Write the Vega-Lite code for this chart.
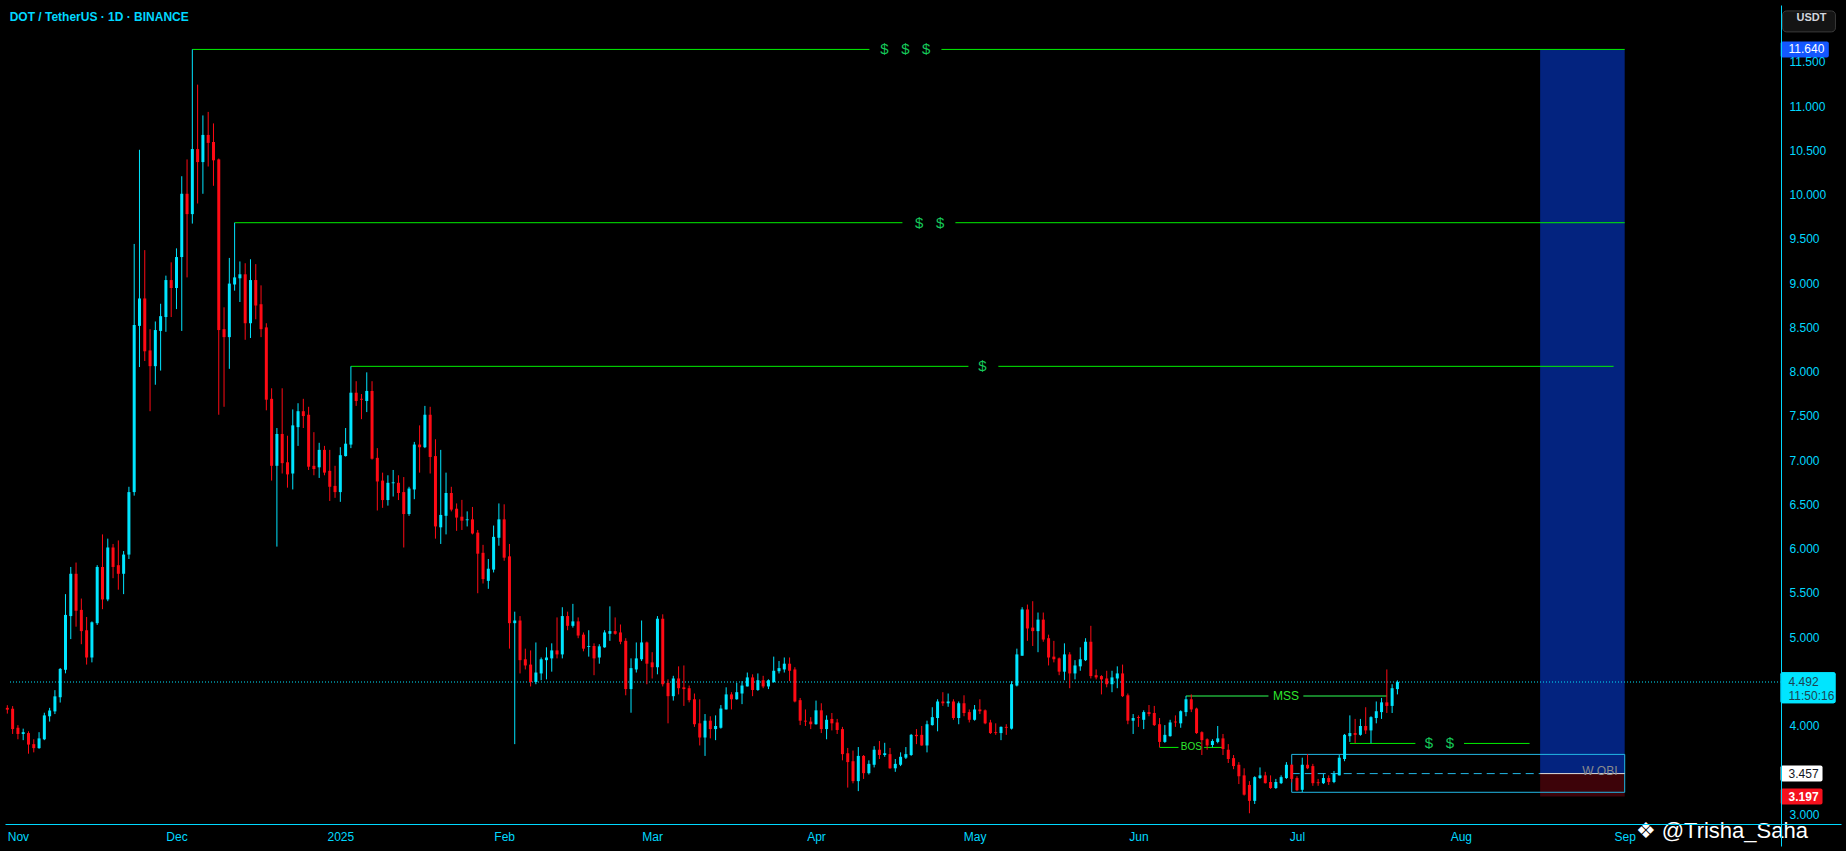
{
"$schema": "https://vega.github.io/schema/vega-lite/v6.json",
"width": 1846,
"height": 851,
"autosize": {"type": "fit", "contains": "padding"},
"padding": 5,
"background": "#000000",
"config": {
"view": {"stroke": null},
"font": "Liberation Sans",
"text": {"font": "Liberation Sans"},
"axis": {"grid": false, "ticks": false, "domain": true, "labels": true, "domainColor": "#00d8ff", "labelColor": "#00d8ff", "labelFont": "Liberation Sans", "labelFontSize": 12, "title": null}
},
"layer": [
{
"data": {"values": [
{"zone": "target", "from": "2025-08-16", "to": "2025-09-01", "top": 11.64, "bottom": 3.457},
{"zone": "stop", "from": "2025-08-16", "to": "2025-09-01", "top": 3.457, "bottom": 3.197}
]},
"mark": {"type": "rect"},
"encoding": {
"x": {"field": "from", "type": "temporal", "title": null,
"scale": {"type": "utc", "domain": [{"year": 2024, "month": "oct", "date": 30, "hours": 12, "minutes": 4, "utc": true}, {"year": 2025, "month": "oct", "date": 10, "hours": 23, "minutes": 31, "utc": true}], "nice": false},
"axis": {"disable": false, "title": null, "grid": false, "ticks": false, "domain": true, "labels": true, "domainColor": "#00d8ff", "domainWidth": 1, "labelColor": "#00d8ff", "labelFont": "Liberation Sans", "labelFontSize": 12, "labelPadding": 7, "labelFlush": false, "labelOverlap": false, "offset": -22, "zindex": 1,
"values": [
{"year": 2024, "month": "nov", "date": 1, "utc": true},
{"year": 2024, "month": "dec", "date": 1, "utc": true},
{"year": 2025, "month": "jan", "date": 1, "utc": true},
{"year": 2025, "month": "feb", "date": 1, "utc": true},
{"year": 2025, "month": "mar", "date": 1, "utc": true},
{"year": 2025, "month": "apr", "date": 1, "utc": true},
{"year": 2025, "month": "may", "date": 1, "utc": true},
{"year": 2025, "month": "jun", "date": 1, "utc": true},
{"year": 2025, "month": "jul", "date": 1, "utc": true},
{"year": 2025, "month": "aug", "date": 1, "utc": true},
{"year": 2025, "month": "sep", "date": 1, "utc": true}
],
"labelExpr": "utcmonth(datum.value) == 0 ? utcFormat(datum.value, '%Y') : utcFormat(datum.value, '%b')"}},
"x2": {"field": "to"},
"y": {"field": "top", "type": "quantitative", "title": null,
"scale": {"domain": [2.6955, 12.0855], "nice": false, "zero": false},
"axis": {"disable": false, "orient": "right", "title": null, "grid": false, "ticks": false, "domain": true, "labels": true, "domainColor": "#00d8ff", "domainWidth": 1, "labelColor": "#00d8ff", "labelFont": "Liberation Sans", "labelFontSize": 12, "labelPadding": 8, "labelAlign": "left", "labelBaseline": "middle", "labelFlush": false, "labelOverlap": false, "format": ".3f", "offset": -60, "zindex": 1,
"values": [3, 4, 5, 5.5, 6, 6.5, 7, 7.5, 8, 8.5, 9, 9.5, 10, 10.5, 11, 11.5]}},
"y2": {"field": "bottom"},
"color": {"field": "zone", "type": "nominal", "scale": {"domain": ["target", "stop"], "range": ["#03237f", "#3d0309"]}, "legend": null}
}
},
{
"data": {"values": [{"zone": "W OBI", "from": "2025-06-30", "to": "2025-09-01", "top": 3.674, "bottom": 3.246}]},
"mark": {"type": "rect", "fill": null, "fillOpacity": 0, "stroke": "#22b8e6", "strokeWidth": 1},
"encoding": {
"x": {"field": "from", "type": "temporal"},
"x2": {"field": "to"},
"y": {"field": "top", "type": "quantitative"},
"y2": {"field": "bottom"}
}
},
{
"data": {"values": [{"price": 3.457, "from": "2025-06-30", "to": "2025-08-16"}]},
"mark": {"type": "rule", "color": "#22b8e6", "strokeWidth": 1, "strokeDash": [8, 5]},
"encoding": {
"x": {"field": "from", "type": "temporal"},
"x2": {"field": "to"},
"y": {"field": "price", "type": "quantitative"}
}
},
{
"data": {"values": [{"price": 3.457, "from": "2025-08-16", "to": "2025-09-01"}]},
"mark": {"type": "rule", "color": "#e0e0e0", "strokeWidth": 1},
"encoding": {
"x": {"field": "from", "type": "temporal"},
"x2": {"field": "to"},
"y": {"field": "price", "type": "quantitative"}
}
},
{
"data": {"values": [
{"level": "$$$", "price": 11.64, "from": "2024-12-04", "to": "2025-04-11T02:24:00Z"},
{"level": "$$$", "price": 11.64, "from": "2025-04-24T17:30:00Z", "to": "2025-09-01"},
{"level": "$$", "price": 9.682, "from": "2024-12-12", "to": "2025-04-17T08:24:00Z"},
{"level": "$$", "price": 9.682, "from": "2025-04-27T09:00:00Z", "to": "2025-09-01"},
{"level": "$", "price": 8.059, "from": "2025-01-03", "to": "2025-04-29T20:00:00Z"},
{"level": "$", "price": 8.059, "from": "2025-05-05T12:00:00Z", "to": "2025-08-29T21:36:00Z"},
{"level": "BOS", "price": 3.753, "from": "2025-06-05", "to": "2025-06-08T14:00:00Z"},
{"level": "BOS", "price": 3.753, "from": "2025-06-13T10:20:00Z", "to": "2025-06-17"},
{"level": "$$ low", "price": 3.798, "from": "2025-07-11", "to": "2025-07-23T09:36:00Z"},
{"level": "$$ low", "price": 3.798, "from": "2025-08-01T14:24:00Z", "to": "2025-08-14"}
]},
"mark": {"type": "rule", "color": "#00f000", "strokeWidth": 1},
"encoding": {
"x": {"field": "from", "type": "temporal"},
"x2": {"field": "to"},
"y": {"field": "price", "type": "quantitative"}
}
},
{
"data": {"values": [
{"level": "MSS", "price": 4.335, "from": "2025-06-10", "to": "2025-06-25T14:24:00Z"},
{"level": "MSS", "price": 4.335, "from": "2025-07-02T04:48:00Z", "to": "2025-07-18"}
]},
"mark": {"type": "rule", "color": "#17802a", "strokeWidth": 2},
"encoding": {
"x": {"field": "from", "type": "temporal"},
"x2": {"field": "to"},
"y": {"field": "price", "type": "quantitative"}
}
},
{
"data": {"values": [{"price": 4.492}]},
"mark": {"type": "rule", "color": "#00e5ff", "strokeWidth": 1, "strokeDash": [1, 2]},
"encoding": {
"x": {"datum": {"year": 2024, "month": "oct", "date": 30, "hours": 12, "minutes": 4, "utc": true}, "type": "temporal"},
"x2": {"datum": {"year": 2025, "month": "sep", "date": 30, "hours": 11, "minutes": 45, "utc": true}},
"y": {"field": "price", "type": "quantitative"}
}
},
{
"data": {"values": [
{"date":"2024-10-29","open":4.13,"high":4.26,"low":4.12,"close":4.195},
{"date":"2024-10-30","open":4.20,"high":4.23,"low":4.135,"close":4.18},
{"date":"2024-10-31","open":4.19,"high":4.22,"low":3.905,"close":3.96},
{"date":"2024-11-01","open":3.975,"high":4.005,"low":3.845,"close":3.905},
{"date":"2024-11-02","open":3.905,"high":3.965,"low":3.835,"close":3.925},
{"date":"2024-11-03","open":3.915,"high":3.935,"low":3.682,"close":3.785},
{"date":"2024-11-04","open":3.79,"high":3.845,"low":3.697,"close":3.745},
{"date":"2024-11-05","open":3.745,"high":3.925,"low":3.737,"close":3.855},
{"date":"2024-11-06","open":3.845,"high":4.145,"low":3.835,"close":4.115},
{"date":"2024-11-07","open":4.105,"high":4.20,"low":4.045,"close":4.17},
{"date":"2024-11-08","open":4.16,"high":4.40,"low":4.13,"close":4.33},
{"date":"2024-11-09","open":4.32,"high":4.65,"low":4.26,"close":4.64},
{"date":"2024-11-10","open":4.63,"high":5.485,"low":4.59,"close":5.25},
{"date":"2024-11-11","open":5.237,"high":5.792,"low":4.977,"close":5.715},
{"date":"2024-11-12","open":5.715,"high":5.842,"low":5.117,"close":5.297},
{"date":"2024-11-13","open":5.307,"high":5.435,"low":4.919,"close":5.067},
{"date":"2024-11-14","open":5.077,"high":5.227,"low":4.689,"close":4.769},
{"date":"2024-11-15","open":4.769,"high":5.177,"low":4.714,"close":5.167},
{"date":"2024-11-16","open":5.157,"high":5.812,"low":5.137,"close":5.792},
{"date":"2024-11-17","open":5.792,"high":6.16,"low":5.315,"close":5.425},
{"date":"2024-11-18","open":5.425,"high":6.112,"low":5.405,"close":6.012},
{"date":"2024-11-19","open":6.012,"high":6.052,"low":5.665,"close":5.792},
{"date":"2024-11-20","open":5.812,"high":6.092,"low":5.535,"close":5.715},
{"date":"2024-11-21","open":5.715,"high":5.972,"low":5.485,"close":5.932},
{"date":"2024-11-22","open":5.932,"high":6.698,"low":5.882,"close":6.638},
{"date":"2024-11-23","open":6.638,"high":9.442,"low":6.598,"close":8.526},
{"date":"2024-11-24","open":8.516,"high":10.506,"low":8.051,"close":8.826},
{"date":"2024-11-25","open":8.826,"high":9.372,"low":8.119,"close":8.229},
{"date":"2024-11-26","open":8.239,"high":8.479,"low":7.552,"close":8.061},
{"date":"2024-11-27","open":8.061,"high":8.566,"low":7.851,"close":8.469},
{"date":"2024-11-28","open":8.459,"high":8.766,"low":8.011,"close":8.626},
{"date":"2024-11-29","open":8.616,"high":9.084,"low":8.449,"close":9.034},
{"date":"2024-11-30","open":9.034,"high":9.234,"low":8.616,"close":8.944},
{"date":"2024-12-01","open":8.944,"high":9.392,"low":8.706,"close":9.294},
{"date":"2024-12-02","open":9.294,"high":10.207,"low":8.459,"close":10.009},
{"date":"2024-12-03","open":10.009,"high":10.397,"low":9.064,"close":9.779},
{"date":"2024-12-04","open":9.779,"high":11.64,"low":9.672,"close":10.514},
{"date":"2024-12-05","open":10.514,"high":11.242,"low":9.899,"close":10.367},
{"date":"2024-12-06","open":10.367,"high":10.894,"low":10.009,"close":10.674},
{"date":"2024-12-07","open":10.674,"high":10.934,"low":10.317,"close":10.584},
{"date":"2024-12-08","open":10.594,"high":10.804,"low":10.099,"close":10.387},
{"date":"2024-12-09","open":10.397,"high":10.407,"low":7.512,"close":8.469},
{"date":"2024-12-10","open":8.479,"high":8.726,"low":7.602,"close":8.389},
{"date":"2024-12-11","open":8.389,"high":9.284,"low":8.031,"close":8.994},
{"date":"2024-12-12","open":8.984,"high":9.682,"low":8.914,"close":9.064},
{"date":"2024-12-13","open":9.054,"high":9.244,"low":8.786,"close":9.099},
{"date":"2024-12-14","open":9.099,"high":9.224,"low":8.359,"close":8.546},
{"date":"2024-12-15","open":8.546,"high":9.269,"low":8.379,"close":9.034},
{"date":"2024-12-16","open":9.034,"high":9.214,"low":8.591,"close":8.746},
{"date":"2024-12-17","open":8.761,"high":8.974,"low":8.389,"close":8.479},
{"date":"2024-12-18","open":8.499,"high":8.546,"low":7.562,"close":7.682},
{"date":"2024-12-19","open":7.692,"high":7.811,"low":6.768,"close":6.935},
{"date":"2024-12-20","open":6.935,"high":7.362,"low":6.022,"close":7.295},
{"date":"2024-12-21","open":7.295,"high":7.811,"low":6.848,"close":6.965},
{"date":"2024-12-22","open":6.975,"high":7.275,"low":6.688,"close":6.838},
{"date":"2024-12-23","open":6.848,"high":7.572,"low":6.668,"close":7.392},
{"date":"2024-12-24","open":7.372,"high":7.642,"low":7.16,"close":7.552},
{"date":"2024-12-25","open":7.552,"high":7.692,"low":7.362,"close":7.497},
{"date":"2024-12-26","open":7.512,"high":7.602,"low":6.888,"close":6.925},
{"date":"2024-12-27","open":6.935,"high":7.315,"low":6.828,"close":6.898},
{"date":"2024-12-28","open":6.918,"high":7.195,"low":6.798,"close":7.115},
{"date":"2024-12-29","open":7.115,"high":7.16,"low":6.828,"close":6.858},
{"date":"2024-12-30","open":6.878,"high":7.115,"low":6.538,"close":6.698},
{"date":"2024-12-31","open":6.708,"high":6.935,"low":6.573,"close":6.638},
{"date":"2025-01-01","open":6.638,"high":7.145,"low":6.528,"close":7.055},
{"date":"2025-01-02","open":7.045,"high":7.362,"low":7.04,"close":7.185},
{"date":"2025-01-03","open":7.175,"high":8.059,"low":7.135,"close":7.761},
{"date":"2025-01-04","open":7.761,"high":7.891,"low":7.612,"close":7.667},
{"date":"2025-01-05","open":7.692,"high":7.746,"low":7.462,"close":7.682},
{"date":"2025-01-06","open":7.667,"high":7.991,"low":7.542,"close":7.781},
{"date":"2025-01-07","open":7.781,"high":7.891,"low":7.005,"close":7.015},
{"date":"2025-01-08","open":7.025,"high":7.135,"low":6.43,"close":6.758},
{"date":"2025-01-09","open":6.768,"high":6.858,"low":6.46,"close":6.548},
{"date":"2025-01-10","open":6.548,"high":6.828,"low":6.485,"close":6.743},
{"date":"2025-01-11","open":6.738,"high":6.888,"low":6.588,"close":6.748},
{"date":"2025-01-12","open":6.743,"high":6.828,"low":6.548,"close":6.628},
{"date":"2025-01-13","open":6.638,"high":6.808,"low":6.012,"close":6.39},
{"date":"2025-01-14","open":6.39,"high":6.698,"low":6.37,"close":6.678},
{"date":"2025-01-15","open":6.668,"high":7.205,"low":6.558,"close":7.175},
{"date":"2025-01-16","open":7.175,"high":7.392,"low":6.858,"close":7.145},
{"date":"2025-01-17","open":7.145,"high":7.612,"low":7.135,"close":7.512},
{"date":"2025-01-18","open":7.512,"high":7.602,"low":6.848,"close":7.035},
{"date":"2025-01-19","open":7.045,"high":7.235,"low":6.112,"close":6.25},
{"date":"2025-01-20","open":6.24,"high":7.115,"low":6.052,"close":6.38},
{"date":"2025-01-21","open":6.37,"high":6.858,"low":6.16,"close":6.628},
{"date":"2025-01-22","open":6.628,"high":6.698,"low":6.42,"close":6.44},
{"date":"2025-01-23","open":6.45,"high":6.51,"low":6.20,"close":6.35},
{"date":"2025-01-24","open":6.36,"high":6.55,"low":6.21,"close":6.315},
{"date":"2025-01-25","open":6.32,"high":6.42,"low":6.25,"close":6.33},
{"date":"2025-01-26","open":6.33,"high":6.47,"low":6.16,"close":6.17},
{"date":"2025-01-27","open":6.18,"high":6.21,"low":5.495,"close":5.942},
{"date":"2025-01-28","open":5.952,"high":6.042,"low":5.605,"close":5.655},
{"date":"2025-01-29","open":5.635,"high":5.882,"low":5.545,"close":5.772},
{"date":"2025-01-30","open":5.762,"high":6.26,"low":5.73,"close":6.132},
{"date":"2025-01-31","open":6.122,"high":6.51,"low":6.032,"close":6.33},
{"date":"2025-02-01","open":6.33,"high":6.50,"low":5.862,"close":5.897},
{"date":"2025-02-02","open":5.912,"high":6.052,"low":4.869,"close":5.157},
{"date":"2025-02-03","open":5.157,"high":5.287,"low":3.79,"close":5.187},
{"date":"2025-02-04","open":5.187,"high":5.237,"low":4.589,"close":4.739},
{"date":"2025-02-05","open":4.749,"high":4.869,"low":4.634,"close":4.679},
{"date":"2025-02-06","open":4.689,"high":4.849,"low":4.442,"close":4.492},
{"date":"2025-02-07","open":4.492,"high":4.939,"low":4.467,"close":4.599},
{"date":"2025-02-08","open":4.589,"high":4.769,"low":4.512,"close":4.749},
{"date":"2025-02-09","open":4.739,"high":4.884,"low":4.522,"close":4.769},
{"date":"2025-02-10","open":4.759,"high":4.929,"low":4.609,"close":4.849},
{"date":"2025-02-11","open":4.849,"high":5.222,"low":4.759,"close":4.804},
{"date":"2025-02-12","open":4.804,"high":5.337,"low":4.759,"close":5.237},
{"date":"2025-02-13","open":5.237,"high":5.287,"low":5.077,"close":5.127},
{"date":"2025-02-14","open":5.127,"high":5.375,"low":5.107,"close":5.177},
{"date":"2025-02-15","open":5.177,"high":5.222,"low":4.987,"close":5.017},
{"date":"2025-02-16","open":5.027,"high":5.052,"low":4.839,"close":4.869},
{"date":"2025-02-17","open":4.889,"high":5.077,"low":4.779,"close":4.899},
{"date":"2025-02-18","open":4.899,"high":4.929,"low":4.569,"close":4.759},
{"date":"2025-02-19","open":4.769,"high":4.919,"low":4.699,"close":4.895},
{"date":"2025-02-20","open":4.884,"high":5.077,"low":4.879,"close":5.052},
{"date":"2025-02-21","open":5.037,"high":5.347,"low":4.957,"close":5.067},
{"date":"2025-02-22","open":5.067,"high":5.222,"low":5.027,"close":5.037},
{"date":"2025-02-23","open":5.052,"high":5.142,"low":4.919,"close":4.947},
{"date":"2025-02-24","open":4.957,"high":4.987,"low":4.342,"close":4.412},
{"date":"2025-02-25","open":4.412,"high":4.759,"low":4.145,"close":4.649},
{"date":"2025-02-26","open":4.634,"high":4.939,"low":4.599,"close":4.759},
{"date":"2025-02-27","open":4.749,"high":5.187,"low":4.729,"close":4.939},
{"date":"2025-02-28","open":4.939,"high":4.949,"low":4.467,"close":4.699},
{"date":"2025-03-01","open":4.714,"high":4.829,"low":4.532,"close":4.659},
{"date":"2025-03-02","open":4.659,"high":5.237,"low":4.579,"close":5.207},
{"date":"2025-03-03","open":5.207,"high":5.257,"low":4.442,"close":4.467},
{"date":"2025-03-04","open":4.482,"high":4.522,"low":4.025,"close":4.332},
{"date":"2025-03-05","open":4.332,"high":4.562,"low":4.282,"close":4.532},
{"date":"2025-03-06","open":4.532,"high":4.669,"low":4.352,"close":4.422},
{"date":"2025-03-07","open":4.432,"high":4.679,"low":4.222,"close":4.412},
{"date":"2025-03-08","open":4.422,"high":4.452,"low":4.262,"close":4.287},
{"date":"2025-03-09","open":4.297,"high":4.362,"low":3.985,"close":4.015},
{"date":"2025-03-10","open":4.025,"high":4.297,"low":3.775,"close":3.865},
{"date":"2025-03-11","open":3.865,"high":4.13,"low":3.657,"close":4.055},
{"date":"2025-03-12","open":4.055,"high":4.105,"low":3.855,"close":3.96},
{"date":"2025-03-13","open":3.96,"high":4.115,"low":3.835,"close":3.995},
{"date":"2025-03-14","open":3.975,"high":4.232,"low":3.965,"close":4.192},
{"date":"2025-03-15","open":4.182,"high":4.432,"low":4.182,"close":4.352},
{"date":"2025-03-16","open":4.352,"high":4.377,"low":4.182,"close":4.297},
{"date":"2025-03-17","open":4.297,"high":4.482,"low":4.292,"close":4.377},
{"date":"2025-03-18","open":4.362,"high":4.502,"low":4.242,"close":4.452},
{"date":"2025-03-19","open":4.442,"high":4.599,"low":4.442,"close":4.544},
{"date":"2025-03-20","open":4.544,"high":4.579,"low":4.332,"close":4.402},
{"date":"2025-03-21","open":4.402,"high":4.589,"low":4.392,"close":4.512},
{"date":"2025-03-22","open":4.512,"high":4.562,"low":4.422,"close":4.442},
{"date":"2025-03-23","open":4.442,"high":4.522,"low":4.412,"close":4.512},
{"date":"2025-03-24","open":4.492,"high":4.779,"low":4.482,"close":4.619},
{"date":"2025-03-25","open":4.614,"high":4.729,"low":4.589,"close":4.649},
{"date":"2025-03-26","open":4.634,"high":4.769,"low":4.599,"close":4.699},
{"date":"2025-03-27","open":4.699,"high":4.769,"low":4.502,"close":4.619},
{"date":"2025-03-28","open":4.634,"high":4.659,"low":4.262,"close":4.272},
{"date":"2025-03-29","open":4.287,"high":4.312,"low":4.005,"close":4.055},
{"date":"2025-03-30","open":4.055,"high":4.182,"low":3.995,"close":4.045},
{"date":"2025-03-31","open":4.045,"high":4.095,"low":3.96,"close":4.015},
{"date":"2025-04-01","open":4.015,"high":4.282,"low":4.01,"close":4.172},
{"date":"2025-04-02","open":4.172,"high":4.252,"low":3.915,"close":3.96},
{"date":"2025-04-03","open":3.96,"high":4.115,"low":3.845,"close":4.065},
{"date":"2025-04-04","open":4.075,"high":4.142,"low":3.945,"close":4.025},
{"date":"2025-04-05","open":4.035,"high":4.075,"low":3.905,"close":3.95},
{"date":"2025-04-06","open":3.96,"high":3.985,"low":3.607,"close":3.677},
{"date":"2025-04-07","open":3.687,"high":3.747,"low":3.299,"close":3.587},
{"date":"2025-04-08","open":3.597,"high":3.717,"low":3.347,"close":3.372},
{"date":"2025-04-09","open":3.372,"high":3.757,"low":3.259,"close":3.657},
{"date":"2025-04-10","open":3.657,"high":3.667,"low":3.397,"close":3.462},
{"date":"2025-04-11","open":3.462,"high":3.607,"low":3.447,"close":3.567},
{"date":"2025-04-12","open":3.557,"high":3.767,"low":3.527,"close":3.727},
{"date":"2025-04-13","open":3.727,"high":3.825,"low":3.622,"close":3.667},
{"date":"2025-04-14","open":3.667,"high":3.805,"low":3.647,"close":3.687},
{"date":"2025-04-15","open":3.677,"high":3.747,"low":3.512,"close":3.517},
{"date":"2025-04-16","open":3.517,"high":3.622,"low":3.477,"close":3.567},
{"date":"2025-04-17","open":3.557,"high":3.697,"low":3.542,"close":3.647},
{"date":"2025-04-18","open":3.637,"high":3.757,"low":3.622,"close":3.677},
{"date":"2025-04-19","open":3.667,"high":3.905,"low":3.657,"close":3.895},
{"date":"2025-04-20","open":3.895,"high":3.96,"low":3.79,"close":3.88},
{"date":"2025-04-21","open":3.895,"high":3.995,"low":3.772,"close":3.775},
{"date":"2025-04-22","open":3.775,"high":4.055,"low":3.697,"close":4.015},
{"date":"2025-04-23","open":4.005,"high":4.207,"low":4.0,"close":4.095},
{"date":"2025-04-24","open":4.085,"high":4.297,"low":3.935,"close":4.272},
{"date":"2025-04-25","open":4.272,"high":4.377,"low":4.222,"close":4.252},
{"date":"2025-04-26","open":4.252,"high":4.362,"low":4.212,"close":4.272},
{"date":"2025-04-27","open":4.272,"high":4.297,"low":4.065,"close":4.085},
{"date":"2025-04-28","open":4.085,"high":4.272,"low":4.015,"close":4.252},
{"date":"2025-04-29","open":4.252,"high":4.342,"low":4.105,"close":4.142},
{"date":"2025-04-30","open":4.152,"high":4.182,"low":4.035,"close":4.065},
{"date":"2025-05-01","open":4.065,"high":4.232,"low":4.055,"close":4.182},
{"date":"2025-05-02","open":4.182,"high":4.297,"low":4.13,"close":4.162},
{"date":"2025-05-03","open":4.172,"high":4.182,"low":4.015,"close":4.025},
{"date":"2025-05-04","open":4.035,"high":4.065,"low":3.905,"close":3.915},
{"date":"2025-05-05","open":3.925,"high":4.025,"low":3.895,"close":3.915},
{"date":"2025-05-06","open":3.915,"high":3.99,"low":3.835,"close":3.985},
{"date":"2025-05-07","open":3.985,"high":4.015,"low":3.895,"close":3.975},
{"date":"2025-05-08","open":3.965,"high":4.502,"low":3.955,"close":4.467},
{"date":"2025-05-09","open":4.452,"high":4.869,"low":4.442,"close":4.804},
{"date":"2025-05-10","open":4.789,"high":5.337,"low":4.789,"close":5.312},
{"date":"2025-05-11","open":5.312,"high":5.367,"low":4.957,"close":5.097},
{"date":"2025-05-12","open":5.107,"high":5.405,"low":4.899,"close":5.067},
{"date":"2025-05-13","open":5.067,"high":5.277,"low":4.829,"close":5.197},
{"date":"2025-05-14","open":5.197,"high":5.277,"low":4.947,"close":4.972},
{"date":"2025-05-15","open":4.987,"high":5.027,"low":4.679,"close":4.769},
{"date":"2025-05-16","open":4.779,"high":4.957,"low":4.714,"close":4.749},
{"date":"2025-05-17","open":4.759,"high":4.769,"low":4.569,"close":4.609},
{"date":"2025-05-18","open":4.609,"high":4.929,"low":4.512,"close":4.804},
{"date":"2025-05-19","open":4.804,"high":4.829,"low":4.422,"close":4.589},
{"date":"2025-05-20","open":4.589,"high":4.739,"low":4.522,"close":4.679},
{"date":"2025-05-21","open":4.669,"high":4.884,"low":4.619,"close":4.749},
{"date":"2025-05-22","open":4.739,"high":4.987,"low":4.729,"close":4.947},
{"date":"2025-05-23","open":4.947,"high":5.127,"low":4.532,"close":4.559},
{"date":"2025-05-24","open":4.569,"high":4.634,"low":4.522,"close":4.544},
{"date":"2025-05-25","open":4.559,"high":4.569,"low":4.352,"close":4.522},
{"date":"2025-05-26","open":4.532,"high":4.619,"low":4.432,"close":4.467},
{"date":"2025-05-27","open":4.467,"high":4.619,"low":4.377,"close":4.544},
{"date":"2025-05-28","open":4.532,"high":4.669,"low":4.422,"close":4.589},
{"date":"2025-05-29","open":4.589,"high":4.689,"low":4.322,"close":4.332},
{"date":"2025-05-30","open":4.342,"high":4.362,"low":4.015,"close":4.055},
{"date":"2025-05-31","open":4.055,"high":4.13,"low":3.905,"close":4.085},
{"date":"2025-06-01","open":4.095,"high":4.115,"low":3.985,"close":4.085},
{"date":"2025-06-02","open":4.065,"high":4.172,"low":3.96,"close":4.152},
{"date":"2025-06-03","open":4.152,"high":4.232,"low":4.105,"close":4.13},
{"date":"2025-06-04","open":4.142,"high":4.222,"low":3.995,"close":4.005},
{"date":"2025-06-05","open":4.015,"high":4.085,"low":3.755,"close":3.815},
{"date":"2025-06-06","open":3.815,"high":4.005,"low":3.805,"close":3.895},
{"date":"2025-06-07","open":3.88,"high":4.065,"low":3.875,"close":4.035},
{"date":"2025-06-08","open":4.045,"high":4.115,"low":3.985,"close":4.035},
{"date":"2025-06-09","open":4.025,"high":4.172,"low":3.975,"close":4.162},
{"date":"2025-06-10","open":4.152,"high":4.335,"low":4.105,"close":4.297},
{"date":"2025-06-11","open":4.297,"high":4.352,"low":4.152,"close":4.182},
{"date":"2025-06-12","open":4.192,"high":4.202,"low":3.905,"close":3.915},
{"date":"2025-06-13","open":3.925,"high":3.935,"low":3.667,"close":3.835},
{"date":"2025-06-14","open":3.845,"high":3.855,"low":3.727,"close":3.775},
{"date":"2025-06-15","open":3.78,"high":3.845,"low":3.755,"close":3.825},
{"date":"2025-06-16","open":3.815,"high":3.995,"low":3.80,"close":3.855},
{"date":"2025-06-17","open":3.855,"high":3.905,"low":3.667,"close":3.735},
{"date":"2025-06-18","open":3.727,"high":3.79,"low":3.577,"close":3.622},
{"date":"2025-06-19","open":3.632,"high":3.667,"low":3.507,"close":3.542},
{"date":"2025-06-20","open":3.557,"high":3.587,"low":3.339,"close":3.427},
{"date":"2025-06-21","open":3.437,"high":3.517,"low":3.209,"close":3.219},
{"date":"2025-06-22","open":3.329,"high":3.372,"low":3.009,"close":3.149},
{"date":"2025-06-23","open":3.149,"high":3.427,"low":3.114,"close":3.417},
{"date":"2025-06-24","open":3.407,"high":3.527,"low":3.397,"close":3.437},
{"date":"2025-06-25","open":3.437,"high":3.477,"low":3.345,"close":3.349},
{"date":"2025-06-26","open":3.362,"high":3.437,"low":3.284,"close":3.294},
{"date":"2025-06-27","open":3.294,"high":3.397,"low":3.284,"close":3.362},
{"date":"2025-06-28","open":3.349,"high":3.437,"low":3.339,"close":3.417},
{"date":"2025-06-29","open":3.407,"high":3.587,"low":3.397,"close":3.557},
{"date":"2025-06-30","open":3.557,"high":3.562,"low":3.357,"close":3.397},
{"date":"2025-07-01","open":3.407,"high":3.427,"low":3.259,"close":3.269},
{"date":"2025-07-02","open":3.274,"high":3.637,"low":3.249,"close":3.557},
{"date":"2025-07-03","open":3.557,"high":3.677,"low":3.507,"close":3.517},
{"date":"2025-07-04","open":3.542,"high":3.567,"low":3.319,"close":3.349},
{"date":"2025-07-05","open":3.359,"high":3.397,"low":3.319,"close":3.349},
{"date":"2025-07-06","open":3.349,"high":3.452,"low":3.339,"close":3.407},
{"date":"2025-07-07","open":3.407,"high":3.437,"low":3.329,"close":3.362},
{"date":"2025-07-08","open":3.362,"high":3.487,"low":3.349,"close":3.452},
{"date":"2025-07-09","open":3.437,"high":3.667,"low":3.437,"close":3.637},
{"date":"2025-07-10","open":3.622,"high":3.905,"low":3.597,"close":3.895},
{"date":"2025-07-11","open":3.88,"high":4.115,"low":3.815,"close":3.915},
{"date":"2025-07-12","open":3.915,"high":4.075,"low":3.80,"close":3.895},
{"date":"2025-07-13","open":3.895,"high":4.075,"low":3.885,"close":3.995},
{"date":"2025-07-14","open":3.995,"high":4.207,"low":3.905,"close":3.945},
{"date":"2025-07-15","open":3.945,"high":4.105,"low":3.80,"close":4.095},
{"date":"2025-07-16","open":4.085,"high":4.272,"low":4.025,"close":4.162},
{"date":"2025-07-17","open":4.152,"high":4.312,"low":4.075,"close":4.262},
{"date":"2025-07-18","open":4.262,"high":4.634,"low":4.142,"close":4.222},
{"date":"2025-07-19","open":4.222,"high":4.467,"low":4.142,"close":4.422},
{"date":"2025-07-20","open":4.412,"high":4.51,"low":4.352,"close":4.492}
]},
"encoding": {
"x": {"field": "date", "type": "temporal"},
"color": {"condition": {"test": "datum.close >= datum.open", "value": "#00e5ff"}, "value": "#ff0a14"}
},
"layer": [
{
"mark": {"type": "rule", "strokeWidth": 1, "clip": true},
"encoding": {
"y": {"field": "low", "type": "quantitative"},
"y2": {"field": "high"}
}
},
{
"mark": {"type": "bar", "width": 3, "clip": true},
"encoding": {
"y": {"field": "open", "type": "quantitative"},
"y2": {"field": "close"}
}
}
]
},
{
"data": {"values": [
{"text": "$\u00a0\u00a0\u00a0$\u00a0\u00a0\u00a0$", "date": "2025-04-17T21:36:00Z", "price": 11.64},
{"text": "$\u00a0\u00a0\u00a0$", "date": "2025-04-22T12:00:00Z", "price": 9.682},
{"text": "$", "date": "2025-05-02T12:00:00Z", "price": 8.059},
{"text": "$\u00a0\u00a0\u00a0$", "date": "2025-07-27T22:48:00Z", "price": 3.798}
]},
"mark": {"type": "text", "align": "center", "baseline": "middle", "color": "#16c95a", "fontSize": 15},
"encoding": {
"x": {"field": "date", "type": "temporal"},
"y": {"field": "price", "type": "quantitative"},
"text": {"field": "text"}
}
},
{
"data": {"values": [{"text": "MSS", "date": "2025-06-28T22:00:00Z", "price": 4.335}]},
"mark": {"type": "text", "align": "center", "baseline": "middle", "color": "#2ee62e", "fontSize": 12},
"encoding": {
"x": {"field": "date", "type": "temporal"},
"y": {"field": "price", "type": "quantitative"},
"text": {"field": "text"}
}
},
{
"data": {"values": [{"text": "BOS", "date": "2025-06-11", "price": 3.753}]},
"mark": {"type": "text", "align": "center", "baseline": "middle", "color": "#2ee62e", "fontSize": 10},
"encoding": {
"x": {"field": "date", "type": "temporal"},
"y": {"field": "price", "type": "quantitative"},
"text": {"field": "text"}
}
},
{
"data": {"values": [{"text": "W OBI", "date": "2025-08-27T07:00:00Z", "price": 3.483}]},
"mark": {"type": "text", "align": "center", "baseline": "middle", "color": "#8c8c8c", "fontSize": 12},
"encoding": {
"x": {"field": "date", "type": "temporal"},
"y": {"field": "price", "type": "quantitative"},
"text": {"field": "text"}
}
},
{
"data": {"values": [{"text": "DOT / TetherUS · 1D · BINANCE", "date": "2024-10-30T10:22:00Z", "price": 12.007}]},
"mark": {"type": "text", "align": "left", "baseline": "middle", "color": "#00d8ff", "fontSize": 12, "fontWeight": "bold"},
"encoding": {
"x": {"field": "date", "type": "temporal"},
"y": {"field": "price", "type": "quantitative"},
"text": {"field": "text"}
}
},
{
"data": {"values": [{"price": 11.64, "label": "11.640"}]},
"layer": [
{
"mark": {"type": "bar", "orient": "horizontal", "size": 16, "color": "#1457ff", "cornerRadius": 2, "clip": true},
"encoding": {
"x": {"datum": {"year": 2025, "month": "sep", "date": 30, "hours": 11, "minutes": 45, "utc": true}, "type": "temporal"},
"x2": {"datum": {"year": 2025, "month": "oct", "date": 9, "hours": 14, "minutes": 53, "utc": true}},
"y": {"field": "price", "type": "quantitative"}
}
},
{
"mark": {"type": "text", "align": "left", "baseline": "middle", "color": "#ffffff", "fontSize": 12, "clip": true},
"encoding": {
"x": {"datum": {"year": 2025, "month": "oct", "date": 2, "utc": true}, "type": "temporal"},
"y": {"field": "price", "type": "quantitative"},
"text": {"field": "label"}
}
}
]
},
{
"data": {"values": [{"price": 4.492, "label": "4.492"}, {"price": 4.3345, "label": "11:50:16"}]},
"layer": [
{
"mark": {"type": "bar", "orient": "horizontal", "size": 31, "color": "#00e5ff", "cornerRadius": 2, "clip": true},
"encoding": {
"x": {"datum": {"year": 2025, "month": "sep", "date": 30, "hours": 11, "minutes": 45, "utc": true}, "type": "temporal"},
"x2": {"datum": {"year": 2025, "month": "oct", "date": 10, "hours": 21, "minutes": 20, "utc": true}},
"y": {"datum": 4.427, "type": "quantitative"}
}
},
{
"mark": {"type": "text", "align": "left", "baseline": "middle", "color": "#1c4452", "fontSize": 12, "clip": true},
"encoding": {
"x": {"datum": {"year": 2025, "month": "oct", "date": 2, "utc": true}, "type": "temporal"},
"y": {"field": "price", "type": "quantitative"},
"text": {"field": "label"}
}
}
]
},
{
"data": {"values": [{"price": 3.457, "label": "3.457"}]},
"layer": [
{
"mark": {"type": "bar", "orient": "horizontal", "size": 16, "color": "#ffffff", "cornerRadius": 2, "clip": true},
"encoding": {
"x": {"datum": {"year": 2025, "month": "sep", "date": 30, "hours": 11, "minutes": 45, "utc": true}, "type": "temporal"},
"x2": {"datum": {"year": 2025, "month": "oct", "date": 8, "hours": 10, "minutes": 20, "utc": true}},
"y": {"field": "price", "type": "quantitative"}
}
},
{
"mark": {"type": "text", "align": "left", "baseline": "middle", "color": "#131722", "fontSize": 12, "clip": true},
"encoding": {
"x": {"datum": {"year": 2025, "month": "oct", "date": 2, "utc": true}, "type": "temporal"},
"y": {"field": "price", "type": "quantitative"},
"text": {"field": "label"}
}
}
]
},
{
"data": {"values": [{"price": 3.197, "label": "3.197"}]},
"layer": [
{
"mark": {"type": "bar", "orient": "horizontal", "size": 16, "color": "#f5111d", "cornerRadius": 2, "clip": true},
"encoding": {
"x": {"datum": {"year": 2025, "month": "sep", "date": 30, "hours": 11, "minutes": 45, "utc": true}, "type": "temporal"},
"x2": {"datum": {"year": 2025, "month": "oct", "date": 8, "hours": 10, "minutes": 20, "utc": true}},
"y": {"field": "price", "type": "quantitative"}
}
},
{
"mark": {"type": "text", "align": "left", "baseline": "middle", "color": "#ffffff", "fontSize": 12, "fontWeight": "bold", "clip": true},
"encoding": {
"x": {"datum": {"year": 2025, "month": "oct", "date": 2, "utc": true}, "type": "temporal"},
"y": {"field": "price", "type": "quantitative"},
"text": {"field": "label"}
}
}
]
},
{
"data": {"values": [{"label": "USDT", "price": 11.99}]},
"layer": [
{
"mark": {"type": "rect", "fill": "#141414", "stroke": "#3a3a3a", "strokeWidth": 1, "cornerRadius": 4, "clip": true},
"encoding": {
"x": {"datum": {"year": 2025, "month": "sep", "date": 30, "hours": 20, "minutes": 53, "utc": true}, "type": "temporal"},
"x2": {"datum": {"year": 2025, "month": "oct", "date": 10, "hours": 21, "utc": true}},
"y": {"datum": 12.075, "type": "quantitative"},
"y2": {"datum": 11.838}
}
},
{
"mark": {"type": "text", "align": "center", "baseline": "middle", "color": "#d1d4dc", "fontSize": 11, "fontWeight": "bold", "clip": true},
"encoding": {
"x": {"datum": {"year": 2025, "month": "oct", "date": 6, "hours": 8, "minutes": 24, "utc": true}, "type": "temporal"},
"y": {"field": "price", "type": "quantitative"},
"text": {"field": "label"}
}
}
]
},
{
"data": {"values": [{"text": "❖", "date": "2025-09-05T00:00:00Z", "price": 2.81}]},
"mark": {"type": "text", "align": "center", "baseline": "middle", "color": "#ffffff", "fontSize": 22, "font": "DejaVu Sans", "clip": true},
"encoding": {
"x": {"field": "date", "type": "temporal"},
"y": {"field": "price", "type": "quantitative"},
"text": {"field": "text"}
}
},
{
"data": {"values": [{"text": "@Trisha_Saha", "date": "2025-09-08T00:00:00Z", "price": 2.81}]},
"mark": {"type": "text", "align": "left", "baseline": "middle", "color": "#ffffff", "fontSize": 22, "clip": true},
"encoding": {
"x": {"field": "date", "type": "temporal"},
"y": {"field": "price", "type": "quantitative"},
"text": {"field": "text"}
}
}
]
}
